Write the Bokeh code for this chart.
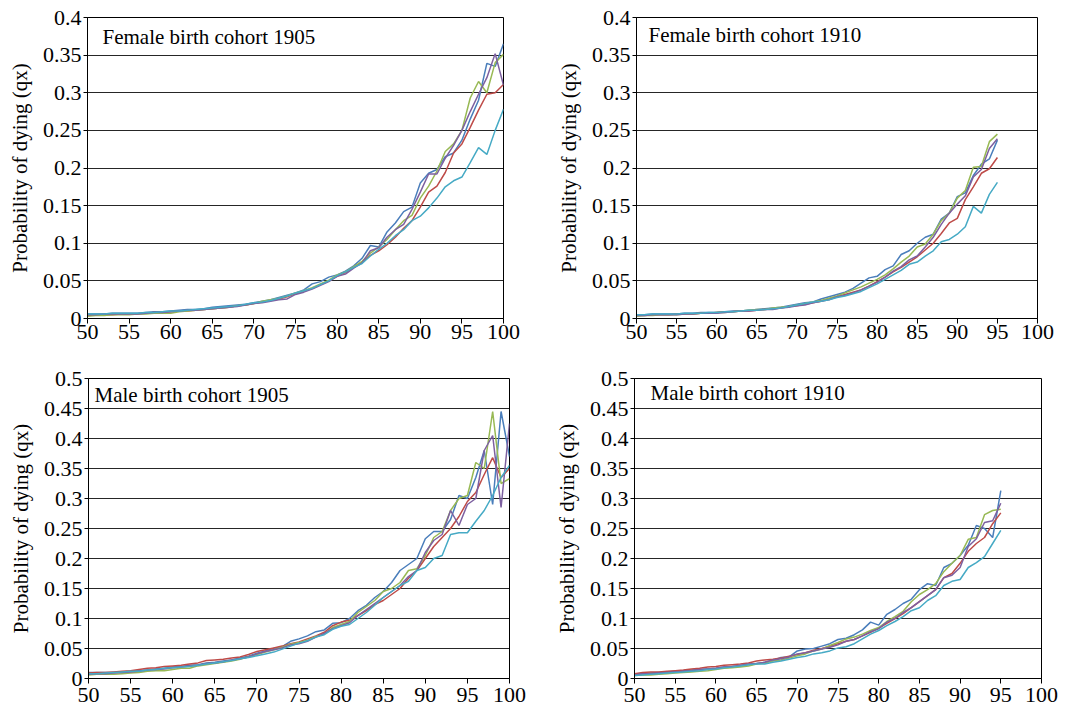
from bokeh.plotting import figure
from bokeh.layouts import column, row
from bokeh.models import Range1d, FixedTicker, CustomJSTickFormatter, Label
from bokeh.embed import file_html
from bokeh.resources import INLINE

# ---------------- data ----------------
ages_1905 = list(range(50, 101))
ages_1910 = list(range(50, 96))

x_ticks = [50, 55, 60, 65, 70, 75, 80, 85, 90, 95, 100]
y_ticks_female = [0, 0.05, 0.1, 0.15, 0.2, 0.25, 0.3, 0.35, 0.4]
y_ticks_male = [0, 0.05, 0.1, 0.15, 0.2, 0.25, 0.3, 0.35, 0.4, 0.45, 0.5]

panel_titles = ["Female birth cohort 1905", "Female birth cohort 1910",
                "Male birth cohort 1905", "Male birth cohort 1910"]
y_label = "Probability of dying (qx)"

# Female 1905
f1905_blue = [0.006, 0.006, 0.006, 0.007, 0.007, 0.007, 0.007, 0.008, 0.009, 0.009,
              0.010, 0.011, 0.012, 0.012, 0.013, 0.015, 0.016, 0.017, 0.018, 0.019,
              0.021, 0.023, 0.025, 0.028, 0.031, 0.034, 0.038, 0.046, 0.049, 0.055,
              0.058, 0.063, 0.070, 0.080, 0.097,
              0.095, 0.115, 0.127, 0.142, 0.148, 0.180, 0.193, 0.198, 0.215, 0.220,
              0.237, 0.265, 0.290, 0.339, 0.335, 0.365]
f1905_red = [0.004, 0.005, 0.005, 0.005, 0.006, 0.006, 0.006, 0.007, 0.008, 0.008,
             0.009, 0.010, 0.010, 0.011, 0.012, 0.013, 0.014, 0.015, 0.017, 0.018,
             0.020, 0.022, 0.024, 0.026, 0.029, 0.033, 0.036, 0.040, 0.045, 0.050,
             0.056, 0.061, 0.068, 0.075, 0.084,
             0.090, 0.098, 0.108, 0.120, 0.130, 0.148, 0.168, 0.176, 0.194, 0.220,
             0.232, 0.254, 0.277, 0.298, 0.300, 0.311]
f1905_green = [0.003, 0.004, 0.004, 0.005, 0.005, 0.005, 0.006, 0.006, 0.007, 0.007,
               0.007, 0.009, 0.010, 0.011, 0.012, 0.013, 0.014, 0.015, 0.017, 0.018,
               0.020, 0.023, 0.025, 0.027, 0.030, 0.034, 0.037, 0.041, 0.046, 0.051,
               0.058, 0.062, 0.069, 0.076, 0.087,
               0.095, 0.105, 0.118, 0.130, 0.137, 0.160, 0.176, 0.196, 0.222, 0.232,
               0.250, 0.293, 0.315, 0.300, 0.340, 0.351]
f1905_purple = [0.005, 0.005, 0.006, 0.006, 0.006, 0.006, 0.006, 0.007, 0.008, 0.008,
                0.009, 0.010, 0.011, 0.011, 0.012, 0.013, 0.014, 0.015, 0.016, 0.018,
                0.020, 0.021, 0.023, 0.025, 0.026, 0.032, 0.035, 0.039, 0.044, 0.049,
                0.056, 0.059, 0.067, 0.074, 0.090,
                0.094, 0.108, 0.118, 0.125, 0.145, 0.168, 0.192, 0.192, 0.213, 0.230,
                0.250, 0.275, 0.298, 0.320, 0.352, 0.310]
f1905_cyan = [0.006, 0.006, 0.006, 0.007, 0.007, 0.007, 0.007, 0.008, 0.008, 0.009,
              0.010, 0.010, 0.011, 0.012, 0.013, 0.014, 0.015, 0.016, 0.017, 0.019,
              0.021, 0.022, 0.024, 0.027, 0.030, 0.034, 0.037, 0.040, 0.045, 0.050,
              0.057, 0.062, 0.068, 0.073, 0.083,
              0.092, 0.100, 0.110, 0.118, 0.130, 0.136, 0.147, 0.160, 0.175, 0.183,
              0.188, 0.207, 0.227, 0.218, 0.250, 0.278]

# Female 1910
f1910_blue = [0.005, 0.005, 0.006, 0.006, 0.006, 0.006, 0.007, 0.007, 0.008, 0.008,
              0.008, 0.009, 0.010, 0.010, 0.011, 0.012, 0.013, 0.014, 0.015, 0.017,
              0.019, 0.021, 0.022, 0.026, 0.029, 0.032, 0.035, 0.040, 0.047, 0.054,
              0.056, 0.065, 0.070, 0.085, 0.090,
              0.100, 0.108, 0.112, 0.132, 0.140, 0.162, 0.167, 0.190, 0.205, 0.212, 0.237]
f1910_red = [0.004, 0.004, 0.005, 0.005, 0.005, 0.006, 0.006, 0.006, 0.007, 0.007,
             0.008, 0.009, 0.009, 0.010, 0.010, 0.011, 0.012, 0.013, 0.014, 0.016,
             0.017, 0.019, 0.021, 0.023, 0.026, 0.029, 0.032, 0.035, 0.038, 0.043,
             0.049, 0.055, 0.062, 0.068, 0.075,
             0.082, 0.091, 0.100, 0.113, 0.127, 0.133, 0.158, 0.175, 0.193, 0.199, 0.214]
f1910_green = [0.003, 0.004, 0.004, 0.005, 0.005, 0.005, 0.006, 0.006, 0.007, 0.007,
               0.008, 0.008, 0.009, 0.010, 0.011, 0.012, 0.012, 0.014, 0.015, 0.016,
               0.018, 0.020, 0.022, 0.024, 0.027, 0.030, 0.034, 0.038, 0.042, 0.047,
               0.052, 0.058, 0.066, 0.075, 0.083,
               0.095, 0.099, 0.112, 0.130, 0.140, 0.160, 0.170, 0.201, 0.202, 0.235, 0.245]
f1910_purple = [0.004, 0.004, 0.005, 0.005, 0.005, 0.005, 0.006, 0.006, 0.007, 0.007,
                0.007, 0.008, 0.009, 0.010, 0.010, 0.011, 0.012, 0.012, 0.014, 0.015,
                0.017, 0.018, 0.021, 0.023, 0.025, 0.029, 0.031, 0.034, 0.038, 0.043,
                0.048, 0.055, 0.063, 0.069, 0.078,
                0.083, 0.095, 0.108, 0.125, 0.140, 0.152, 0.163, 0.188, 0.198, 0.226, 0.239]
f1910_cyan = [0.005, 0.005, 0.006, 0.006, 0.006, 0.006, 0.007, 0.007, 0.007, 0.008,
              0.008, 0.009, 0.009, 0.010, 0.011, 0.011, 0.012, 0.013, 0.014, 0.016,
              0.018, 0.020, 0.022, 0.023, 0.025, 0.028, 0.030, 0.033, 0.036, 0.041,
              0.046, 0.052, 0.058, 0.064, 0.072,
              0.075, 0.083, 0.090, 0.102, 0.105, 0.112, 0.122, 0.149, 0.140, 0.165, 0.181]

# Male 1905
m1905_blue = [0.010, 0.010, 0.010, 0.010, 0.011, 0.012, 0.013, 0.014, 0.016, 0.017,
              0.019, 0.020, 0.022, 0.023, 0.026, 0.027, 0.029, 0.031, 0.034, 0.037,
              0.042, 0.046, 0.050, 0.053, 0.062, 0.066, 0.071, 0.078, 0.081, 0.092,
              0.093, 0.100, 0.113, 0.122, 0.135,
              0.145, 0.160, 0.180, 0.190, 0.200,
              0.233, 0.245, 0.245, 0.265, 0.305, 0.300, 0.335, 0.380, 0.290, 0.445, 0.370]
m1905_red = [0.009, 0.010, 0.010, 0.011, 0.012, 0.013, 0.015, 0.017, 0.018, 0.020,
             0.021, 0.022, 0.024, 0.026, 0.030, 0.031, 0.032, 0.034, 0.036, 0.040,
             0.045, 0.048, 0.051, 0.054, 0.058, 0.061, 0.066, 0.071, 0.077, 0.088,
             0.094, 0.097, 0.105, 0.113, 0.123,
             0.130, 0.140, 0.150, 0.167, 0.180,
             0.200, 0.220, 0.235, 0.250, 0.270, 0.295, 0.310, 0.340, 0.368, 0.335, 0.350]
m1905_green = [0.006, 0.007, 0.007, 0.007, 0.008, 0.009, 0.010, 0.012, 0.013, 0.013,
               0.015, 0.017, 0.017, 0.021, 0.023, 0.025, 0.027, 0.029, 0.032, 0.036,
               0.040, 0.044, 0.048, 0.052, 0.057, 0.060, 0.064, 0.070, 0.074, 0.085,
               0.090, 0.095, 0.110, 0.120, 0.130,
               0.145, 0.150, 0.160, 0.180, 0.183,
               0.205, 0.235, 0.245, 0.280, 0.300, 0.305, 0.360, 0.350, 0.445, 0.325, 0.333]
m1905_purple = [0.007, 0.008, 0.008, 0.009, 0.010, 0.011, 0.012, 0.014, 0.015, 0.016,
                0.018, 0.019, 0.021, 0.022, 0.025, 0.026, 0.028, 0.031, 0.033, 0.036,
                0.041, 0.045, 0.048, 0.051, 0.056, 0.058, 0.062, 0.069, 0.075, 0.083,
                0.088, 0.093, 0.105, 0.115, 0.125,
                0.135, 0.145, 0.155, 0.170, 0.180,
                0.210, 0.230, 0.240, 0.280, 0.255, 0.290, 0.300, 0.380, 0.405, 0.285, 0.425]
m1905_cyan = [0.008, 0.008, 0.009, 0.010, 0.011, 0.012, 0.012, 0.014, 0.015, 0.017,
              0.018, 0.019, 0.020, 0.022, 0.024, 0.026, 0.028, 0.030, 0.033, 0.035,
              0.038, 0.041, 0.044, 0.049, 0.054, 0.059, 0.063, 0.069, 0.073, 0.082,
              0.087, 0.090, 0.100, 0.110, 0.122,
              0.135, 0.145, 0.155, 0.162, 0.180,
              0.185, 0.200, 0.205, 0.240, 0.243, 0.243, 0.262, 0.280, 0.305, 0.335, 0.355]

# Male 1910
m1910_blue = [0.007, 0.008, 0.009, 0.010, 0.011, 0.012, 0.013, 0.014, 0.015, 0.016,
              0.017, 0.019, 0.020, 0.021, 0.023, 0.025, 0.027, 0.030, 0.035, 0.036,
              0.046, 0.049, 0.050, 0.054, 0.058, 0.065, 0.067, 0.073, 0.081, 0.094,
              0.089, 0.107, 0.115, 0.125, 0.132, 0.148, 0.158, 0.155, 0.185, 0.192,
              0.205, 0.222, 0.255, 0.250, 0.235, 0.313]
m1910_red = [0.008, 0.010, 0.011, 0.011, 0.012, 0.013, 0.014, 0.016, 0.017, 0.019,
             0.020, 0.022, 0.023, 0.024, 0.026, 0.029, 0.031, 0.032, 0.034, 0.037,
             0.040, 0.043, 0.047, 0.050, 0.054, 0.058, 0.062, 0.065, 0.071, 0.077,
             0.084, 0.092, 0.100, 0.108, 0.118, 0.128, 0.138, 0.148, 0.168, 0.175,
             0.192, 0.212, 0.225, 0.235, 0.258, 0.276]
m1910_green = [0.005, 0.006, 0.006, 0.007, 0.008, 0.009, 0.010, 0.011, 0.012, 0.013,
               0.015, 0.017, 0.018, 0.019, 0.021, 0.024, 0.026, 0.029, 0.031, 0.034,
               0.038, 0.041, 0.046, 0.049, 0.055, 0.060, 0.066, 0.069, 0.074, 0.080,
               0.085, 0.095, 0.103, 0.112, 0.128, 0.140, 0.148, 0.158, 0.178, 0.192,
               0.205, 0.232, 0.235, 0.273, 0.280, 0.282]
m1910_purple = [0.006, 0.008, 0.008, 0.009, 0.010, 0.011, 0.012, 0.013, 0.015, 0.016,
                0.017, 0.019, 0.020, 0.022, 0.024, 0.025, 0.027, 0.031, 0.033, 0.036,
                0.041, 0.043, 0.046, 0.049, 0.052, 0.056, 0.062, 0.065, 0.071, 0.078,
                0.083, 0.094, 0.100, 0.110, 0.118, 0.128, 0.138, 0.148, 0.168, 0.172,
                0.185, 0.220, 0.233, 0.260, 0.263, 0.292]
m1910_cyan = [0.005, 0.006, 0.007, 0.008, 0.009, 0.010, 0.011, 0.012, 0.013, 0.015,
              0.016, 0.018, 0.019, 0.021, 0.023, 0.024, 0.024, 0.027, 0.029, 0.032,
              0.035, 0.037, 0.041, 0.043, 0.046, 0.051, 0.053, 0.058, 0.066, 0.074,
              0.080, 0.088, 0.095, 0.103, 0.113, 0.118, 0.130, 0.138, 0.155, 0.162,
              0.165, 0.185, 0.193, 0.203, 0.225, 0.247]

series_colors = ["#4A7EBB", "#BE4B48", "#98B954", "#7D60A0", "#46AAC5"]

FONT = "Liberation Serif"


def make_panel(title, ages, series, y_max, y_ticks, width, height, bl, br, bt, bb, tx, ty, xstand):
    p = figure(width=width, height=height, output_backend="svg", toolbar_location=None,
               x_range=Range1d(50, 100), y_range=Range1d(0, y_max),
               min_border_left=bl, min_border_right=br, min_border_top=bt, min_border_bottom=bb)
    p.background_fill_color = "white"
    p.border_fill_color = "white"
    p.outline_line_color = "black"
    p.outline_line_width = 1
    p.outline_line_alpha = 1

    for vals, col in zip(series, series_colors):
        p.line(ages, vals, line_color=col, line_width=1.5)

    p.xgrid.visible = False
    p.ygrid.grid_line_color = "black"
    p.ygrid.grid_line_width = 1
    p.ygrid.grid_line_alpha = 0.85
    p.ygrid.ticker = FixedTicker(ticks=y_ticks)

    p.xaxis.ticker = FixedTicker(ticks=x_ticks)
    p.yaxis.ticker = FixedTicker(ticks=y_ticks)
    p.yaxis.formatter = CustomJSTickFormatter(
        code="var s = tick.toFixed(2); s = s.replace(/0+$/, ''); s = s.replace(/\\.$/, ''); return s;")

    for ax in (p.xaxis[0], p.yaxis[0]):
        ax.axis_line_color = "black"
        ax.major_tick_line_color = "black"
        ax.minor_tick_line_color = None
        ax.major_label_text_font = FONT
        ax.major_label_text_font_size = "22px"
        ax.major_label_text_color = "black"
    p.xaxis.major_tick_out = 5
    p.xaxis.major_tick_in = 0
    p.xaxis.major_label_standoff = xstand
    p.yaxis.major_tick_out = 4
    p.yaxis.major_tick_in = 0
    p.yaxis.major_label_standoff = 2

    p.yaxis.axis_label = y_label
    p.yaxis.axis_label_text_font = FONT
    p.yaxis.axis_label_text_font_size = "21px"
    p.yaxis.axis_label_text_font_style = "normal"
    p.yaxis.axis_label_text_color = "black"
    p.yaxis.axis_label_standoff = 8

    lab = Label(x=50, y=y_max, x_offset=tx, y_offset=-ty, text=title,
                text_font=FONT, text_font_size="21px", text_color="black",
                text_baseline="middle", text_align="left")
    p.add_layout(lab)
    return p


p1 = make_panel(panel_titles[0], ages_1905,
                [f1905_blue, f1905_red, f1905_green, f1905_purple, f1905_cyan],
                0.4, y_ticks_female, 543, 352, 87, 40, 17, 34, 15, 19, 1)
p2 = make_panel(panel_titles[1], ages_1910,
                [f1910_blue, f1910_red, f1910_green, f1910_purple, f1910_cyan],
                0.4, y_ticks_female, 539, 352, 93, 45, 16, 34, 12, 17, 1)
p3 = make_panel(panel_titles[2], ages_1905,
                [m1905_blue, m1905_red, m1905_green, m1905_purple, m1905_cyan],
                0.5, y_ticks_male, 543, 357, 88, 34, 24, 31, 6, 16, 4)
p4 = make_panel(panel_titles[3], ages_1910,
                [m1910_blue, m1910_red, m1910_green, m1910_purple, m1910_cyan],
                0.5, y_ticks_male, 539, 357, 91, 41, 26, 29, 16, 14, 4)

layout = column(row(p1, p2), row(p3, p4))

open("out.html", "w").write(file_html(layout, INLINE))
